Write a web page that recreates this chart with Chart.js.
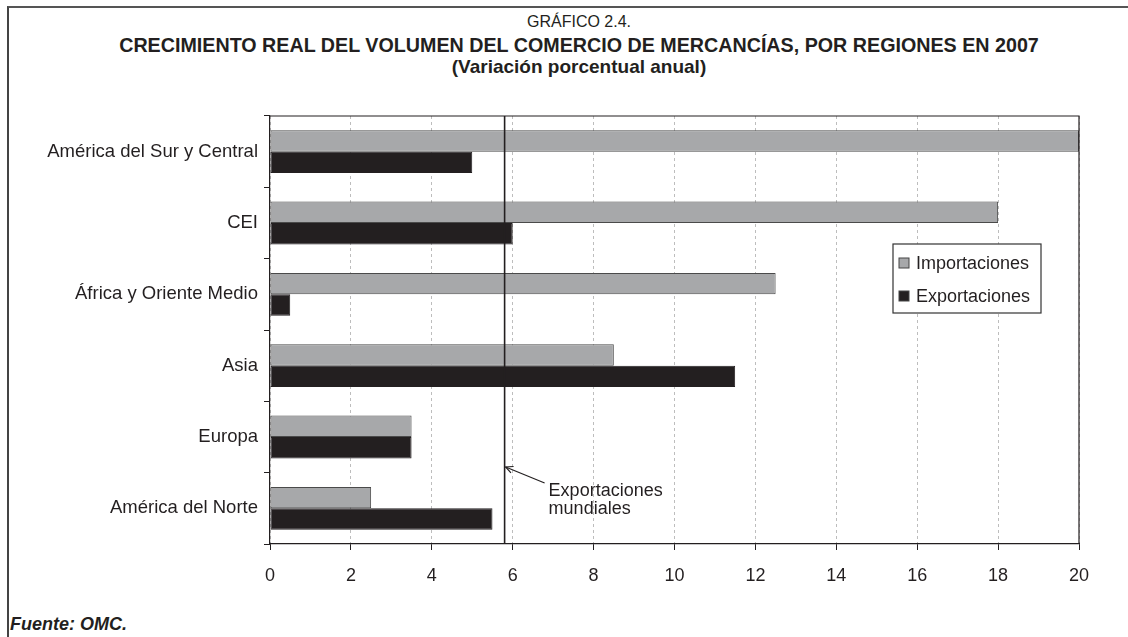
<!DOCTYPE html>
<html>
<head>
<meta charset="utf-8">
<script src="https://cdn.jsdelivr.net/npm/chart.js@4.4.0/dist/chart.umd.min.js"></script>
<style>
  html, body { margin: 0; padding: 0; background: #fff; }
  body { width: 1128px; height: 637px; position: relative; overflow: hidden; font-family: "Liberation Sans", Arial, sans-serif; color: #231f20; }
  #frame { position: absolute; left: 7px; top: 6px; width: 1200px; height: 700px; border-left: 2px solid #444; border-top: 2px solid #555; }
  .title { position: absolute; left: 15px; width: 1128px; text-align: center; white-space: nowrap; }
  #t0 { top: 13px; font-size: 16px; }
  #t1 { top: 34px; font-size: 19.7px; font-weight: bold; }
  #t2 { top: 56px; font-size: 19px; font-weight: bold; }
  #src { position: absolute; left: 10px; top: 614px; font-size: 18px; font-weight: bold; font-style: italic; }
  #wrap { position: absolute; left: 0; top: 0; width: 1128px; height: 637px; }
</style>
</head>
<body>
<div id="frame"></div>
<div class="title" id="t0">GRÁFICO 2.4.</div>
<div class="title" id="t1">CRECIMIENTO REAL DEL VOLUMEN DEL COMERCIO DE MERCANCÍAS, POR REGIONES EN 2007</div>
<div class="title" id="t2">(Variación porcentual anual)</div>
<div id="src">Fuente: OMC.</div>
<div id="wrap"><canvas id="chart"></canvas></div>
<script>
// data
const regions = ['América del Sur y Central', 'CEI', 'África y Oriente Medio', 'Asia', 'Europa', 'América del Norte'];
const importaciones = [20, 18, 12.5, 8.5, 3.5, 2.5];
const exportaciones = [5, 6, 0.5, 11.5, 3.5, 5.5];
const xTicks = [0, 2, 4, 6, 8, 10, 12, 14, 16, 18, 20];
const worldExports = 5.8;

const GRAY = '#a7a8aa';
const BLACK = '#231f20';
const FONT = '"Liberation Sans", Arial, sans-serif';

// plot frame, world exports line and its note, legend box
const extrasPlugin = {
    id: 'extras',
    afterDatasetsDraw(chart) {
        const ctx = chart.ctx;
        const a = chart.chartArea;
        const x = chart.scales.x;
        ctx.save();
        ctx.strokeStyle = '#231f20';
        ctx.lineWidth = 1.2;
        ctx.beginPath();
        ctx.moveTo(a.left, a.top);
        ctx.lineTo(a.right, a.top);
        ctx.lineTo(a.right, a.bottom);
        ctx.stroke();

        const wx = x.getPixelForValue(worldExports);
        ctx.lineWidth = 1.6;
        ctx.beginPath();
        ctx.moveTo(wx, a.top);
        ctx.lineTo(wx, a.bottom);
        ctx.stroke();

        // arrow
        const ax = wx + 1, ay = 467;
        const bx = wx + 40, by = 483;
        ctx.lineWidth = 1.2;
        ctx.beginPath();
        ctx.moveTo(bx, by);
        ctx.lineTo(ax, ay);
        ctx.stroke();
        const ang = Math.atan2(ay - by, ax - bx);
        ctx.beginPath();
        ctx.moveTo(ax + Math.cos(ang + Math.PI - 0.45) * 8, ay + Math.sin(ang + Math.PI - 0.45) * 8);
        ctx.lineTo(ax, ay);
        ctx.lineTo(ax + Math.cos(ang + Math.PI + 0.45) * 8, ay + Math.sin(ang + Math.PI + 0.45) * 8);
        ctx.stroke();

        ctx.fillStyle = '#231f20';
        ctx.font = '18px ' + FONT;
        ctx.textBaseline = 'alphabetic';
        ctx.textAlign = 'left';
        ctx.fillText('Exportaciones', wx + 44, 496);
        ctx.fillText('mundiales', wx + 44, 514);

        // legend box
        const lx = 893, ly = 244, lw = 148, lh = 69;
        ctx.fillStyle = '#fff';
        ctx.fillRect(lx, ly, lw, lh);
        ctx.lineWidth = 1.2;
        ctx.strokeStyle = '#333';
        ctx.strokeRect(lx, ly, lw, lh);
        const items = [
            { label: chart.data.datasets[0].label, color: GRAY, y: 263 },
            { label: chart.data.datasets[1].label, color: BLACK, y: 296 }
        ];
        items.forEach(it => {
            ctx.fillStyle = it.color;
            ctx.fillRect(899, it.y - 5, 10, 10);
            ctx.lineWidth = 1;
            ctx.strokeStyle = '#444';
            ctx.strokeRect(899, it.y - 5, 10, 10);
            ctx.fillStyle = '#231f20';
            ctx.fillText(it.label, 916, it.y + 6);
        });
        ctx.restore();
    }
};

const ctx = document.getElementById('chart').getContext('2d');
new Chart(ctx, {
    type: 'bar',
    data: {
        labels: regions,
        datasets: [{
            label: 'Importaciones',
            data: importaciones,
            backgroundColor: GRAY,
            borderColor: '#4a4a4a',
            borderWidth: 1,
            borderSkipped: false
        }, {
            label: 'Exportaciones',
            data: exportaciones,
            backgroundColor: BLACK,
            borderColor: '#231f20',
            borderWidth: 1,
            borderSkipped: false
        }]
    },
    options: {
        indexAxis: 'y',
        responsive: true,
        maintainAspectRatio: false,
        animation: false,
        categoryPercentage: 0.6,
        barPercentage: 1,
        layout: { padding: { top: 116, right: 49, left: 0, bottom: 0 } },
        plugins: {
            legend: { display: false },
            tooltip: { enabled: false }
        },
        scales: {
            x: {
                min: 0,
                max: 20,
                afterBuildTicks(scale) {
                    scale.ticks = xTicks.map(v => ({ value: v }));
                },
                afterFit(scale) { scale.height = 93; },
                grid: {
                    color: '#bdbdbd',
                    lineWidth: 1,
                    tickColor: '#231f20',
                    tickLength: 6,
                    tickBorderDash: []
                },
                border: { display: true, color: '#231f20', width: 1.2, dash: [3, 3] },
                ticks: {
                    color: '#231f20',
                    padding: 15,
                    font: { family: FONT, size: 18 }
                }
            },
            y: {
                afterFit(scale) { scale.width = 270; },
                grid: {
                    offset: true,
                    drawOnChartArea: false,
                    tickColor: '#231f20',
                    tickLength: 6
                },
                border: { display: true, color: '#231f20', width: 1.2 },
                ticks: {
                    color: '#231f20',
                    padding: 6,
                    font: { family: FONT, size: 18.5 }
                }
            }
        }
    },
    plugins: [extrasPlugin]
});
</script>
</body>
</html>
